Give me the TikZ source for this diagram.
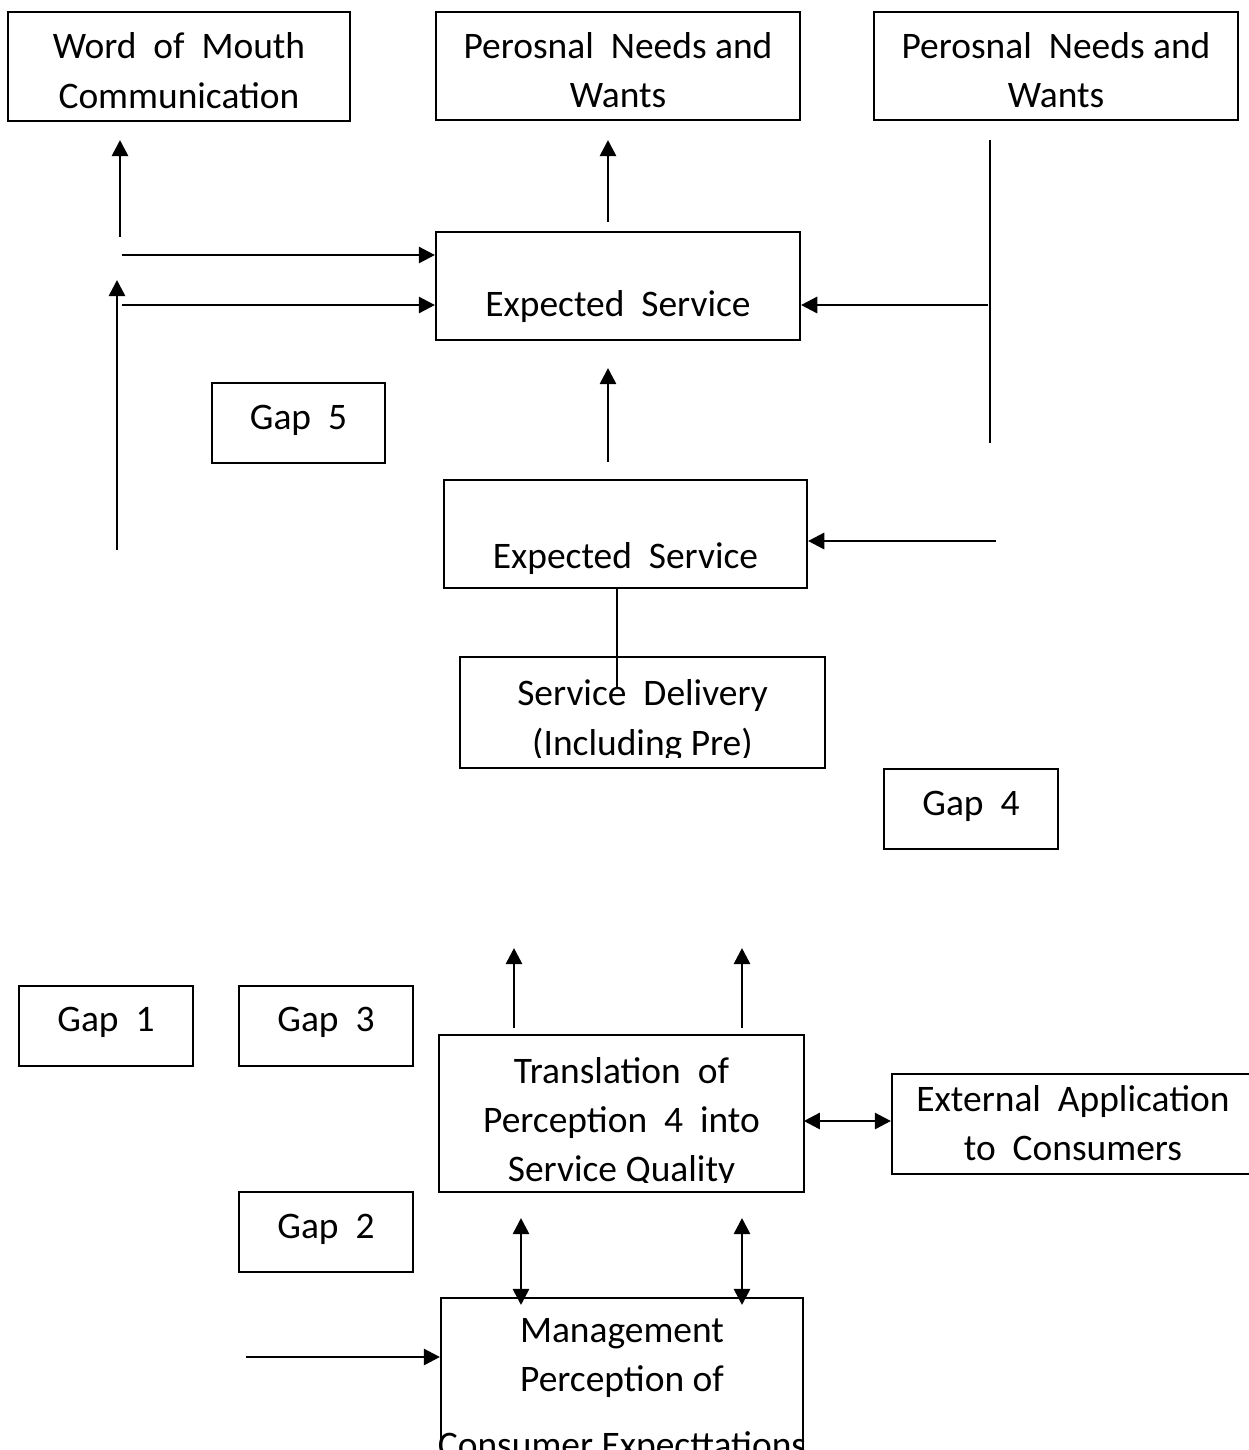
\documentclass[tikz,border=0pt]{standalone}
\usepackage{fontspec}
\setmainfont{Carlito}
\usetikzlibrary{arrows.meta}
% rows of a box, lowered by #1 without changing the box size
\newcommand{\rows}[2][0pt]{\raisebox{-#1}[\height][\depth]{\begin{tabular}{@{}c@{}}#2\end{tabular}}}
\tikzset{
  txt/.style={inner sep=0pt, font=\fontsize{10.65}{14}\selectfont},
  box/.style={txt, draw, line width=0.55pt},
  gapbox/.style={box, minimum width=1.73cm, minimum height=0.8cm},
  arr/.style={line width=0.75pt, -{Triangle[length=4.6pt,width=4.6pt]}},
  dblarr/.style={line width=0.75pt, {Triangle[length=4.6pt,width=4.6pt]}-{Triangle[length=4.6pt,width=4.6pt]}},
  link/.style={line width=0.75pt}
}
\begin{document}
\begin{tikzpicture}[x=0.01cm,y=-0.01cm]
        \useasboundingbox (0,0) rectangle (1249,1450);
        % top row
        \node[box, minimum width=3.42cm, minimum height=1.09cm] (wom) at (179,66.5) {\rows[2pt]{Word~ of~ Mouth\\Communication}};
        \node[box, minimum width=3.64cm, minimum height=1.08cm] (needsA) at (618,66) {\rows[2pt]{Perosnal~ Needs and\\Wants}};
        \node[box, minimum width=3.64cm, minimum height=1.08cm] (needsB) at (1056,66) {\rows[2pt]{Perosnal~ Needs and\\Wants}};
        \node[box, minimum width=3.64cm, minimum height=1.08cm] (expA) at (618,286) {\rows[-1.1pt]{\\Expected~ Service}};
        \node[gapbox] (gap5) at (298.5,423) {\rows[-0.9pt]{Gap~ 5}};
        \node[box, minimum width=3.63cm, minimum height=1.08cm] (expB) at (625.5,534) {\rows{\\Expected~ Service}};
        % service delivery
        \begin{scope}
          \clip (461,658) rectangle (824,757);
          \node[txt, minimum width=3.63cm, minimum height=1.09cm] (deliv) at (642.5,712.5) {\rows[2.3pt]{Service~ Delivery\\(Including Pre)}};
        \end{scope}
        \draw[line width=0.55pt] (deliv.south west) rectangle (deliv.north east);
        \node[gapbox] (gap4) at (971,809) {\rows[-0.9pt]{Gap~ 4}};
        % lower part
        \node[gapbox] (gap1) at (106,1026) {\rows[-1.1pt]{Gap~ 1}};
        \node[gapbox] (gap3) at (326,1026) {\rows[-1.1pt]{Gap~ 3}};
        \node[gapbox] (gap2) at (326,1232) {\rows[-0.9pt]{Gap~ 2}};
        \begin{scope}
          \clip (440,1036) rectangle (803,1182);
          \node[txt, minimum width=3.63cm, minimum height=1.55cm] (transl) at (621.5,1113.5) {\rows[2.6pt]{Translation~ of\\Perception~ 4~ into\\Service Quality}};
        \end{scope}
        \draw[line width=0.55pt] (transl.south west) rectangle (transl.north east);
        \node[box, minimum width=3.62cm, minimum height=1.0cm] (extapp) at (1073,1124) {\rows[0.7pt]{External~ Application\\to~ Consumers}};
        \node[box, minimum width=3.62cm, minimum height=1.84cm] (mgmt) at (622,1390) {\makebox[3cm]{\rows{Management\\Perception of\\[4.8pt]Consumer Expecttations}}};
        % free ends
        \coordinate (womFoot) at (120,237);
        \coordinate (womTip) at (120,140);
        \coordinate (feedA) at (122,255);
        \coordinate (riseFoot) at (117,550);
        \coordinate (riseTip) at (117,280);
        \coordinate (feedB) at (122,305);
        \coordinate (needsFoot) at (608,222);
        \coordinate (needsTip) at (608,140);
        \coordinate (barTop) at (990,140);
        \coordinate (barBot) at (990,443);
        \coordinate (feedC) at (988,305);
        \coordinate (expFoot) at (608,462);
        \coordinate (expTip) at (608,368);
        \coordinate (feedD) at (996,541);
        \coordinate (stem) at (617,688);
        \coordinate (outL) at (514,1028);
        \coordinate (outLTip) at (514,948);
        \coordinate (outR) at (742,1028);
        \coordinate (outRTip) at (742,948);
        \coordinate (side) at (850,1121);
        \coordinate (linkLTop) at (521,1218);
        \coordinate (linkLBot) at (521,1305);
        \coordinate (linkRTop) at (742,1218);
        \coordinate (linkRBot) at (742,1305);
        \coordinate (feedE) at (246,1357);
        % connectors
        \draw[arr] (womFoot) to (womTip);
        \draw[arr] (feedA) to (feedA -| expA.west);
        \draw[arr] (riseFoot) to (riseTip);
        \draw[arr] (feedB) to (feedB -| expA.west);
        \draw[arr] (needsFoot) to (needsTip);
        \draw[link] (barTop) to (barBot);
        \draw[arr] (feedC) to (feedC -| expA.east);
        \draw[arr] (expFoot) to (expTip);
        \draw[arr] (feedD) to (feedD -| expB.east);
        \draw[link] (stem |- expB.south) to (stem);
        \draw[arr] (outL) to (outLTip);
        \draw[arr] (outR) to (outRTip);
        \draw[dblarr] (side -| transl.east) to (side -| extapp.west);
        \draw[dblarr] (linkLTop) to (linkLBot);
        \draw[dblarr] (linkRTop) to (linkRBot);
        \draw[arr] (feedE) to (feedE -| mgmt.west);
\end{tikzpicture}
\end{document}
